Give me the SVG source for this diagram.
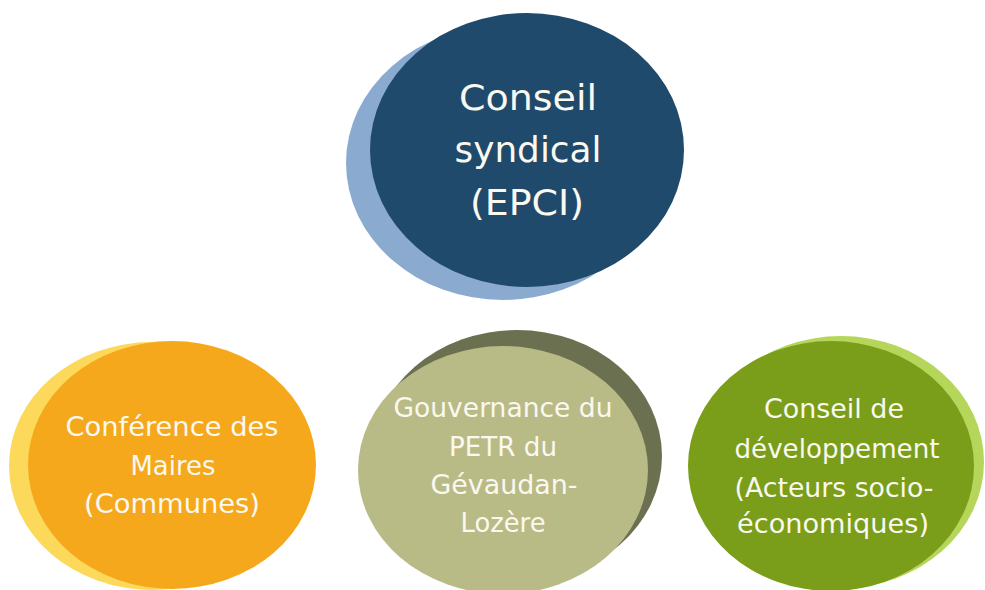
<svg xmlns="http://www.w3.org/2000/svg" width="985" height="590" viewBox="0 0 985 590">
<style>
text{font-family:"DejaVu Sans","Open Sans",sans-serif;fill:#fbf8f0;text-anchor:middle}
.big{font-size:36px}
.sm{font-size:26.5px}
</style>
<rect width="985" height="590" fill="#ffffff"/>
<g id="node-conseil-syndical">
<ellipse cx="503" cy="163" rx="157" ry="137" fill="#8aabcf"/>
<ellipse cx="527" cy="150" rx="157" ry="137" fill="#1f4a6b"/>
<text class="big" x="528" y="110" textLength="138" lengthAdjust="spacingAndGlyphs">Conseil</text>
<text class="big" x="528" y="162" textLength="147" lengthAdjust="spacingAndGlyphs">syndical</text>
<text class="big" x="527" y="215" textLength="114" lengthAdjust="spacingAndGlyphs">(EPCI)</text>
</g>
<g id="node-conference-maires">
<ellipse cx="152" cy="466" rx="143" ry="124" fill="#fcd95a"/>
<ellipse cx="172" cy="465" rx="144" ry="124" fill="#f5a81c"/>
<text class="sm" x="172" y="436" textLength="213" lengthAdjust="spacingAndGlyphs">Conférence des</text>
<text class="sm" x="173" y="475" textLength="85" lengthAdjust="spacingAndGlyphs">Maires</text>
<text class="sm" x="172" y="513" textLength="176" lengthAdjust="spacingAndGlyphs">(Communes)</text>
</g>
<g id="node-gouvernance-petr">
<ellipse cx="517" cy="456" rx="145" ry="126" fill="#6b7150"/>
<ellipse cx="503" cy="470" rx="145" ry="124" fill="#b9bb86"/>
<text class="sm" x="503" y="417" textLength="219" lengthAdjust="spacingAndGlyphs">Gouvernance du</text>
<text class="sm" x="503" y="456" textLength="108" lengthAdjust="spacingAndGlyphs">PETR du</text>
<text class="sm" x="504" y="494" textLength="147" lengthAdjust="spacingAndGlyphs">Gévaudan-</text>
<text class="sm" x="503" y="532" textLength="85" lengthAdjust="spacingAndGlyphs">Lozère</text>
</g>
<g id="node-conseil-developpement">
<ellipse cx="841" cy="462" rx="143" ry="126" fill="#b5d65a"/>
<ellipse cx="831" cy="466" rx="143" ry="125" fill="#7a9e1a"/>
<text class="sm" x="834" y="418" textLength="140" lengthAdjust="spacingAndGlyphs">Conseil de</text>
<text class="sm" x="837" y="458" textLength="205" lengthAdjust="spacingAndGlyphs">développement</text>
<text class="sm" x="834" y="497" textLength="199" lengthAdjust="spacingAndGlyphs">(Acteurs socio-</text>
<text class="sm" x="833" y="533" textLength="192" lengthAdjust="spacingAndGlyphs">économiques)</text>
</g>
<g id="connectors"></g>
</svg>
